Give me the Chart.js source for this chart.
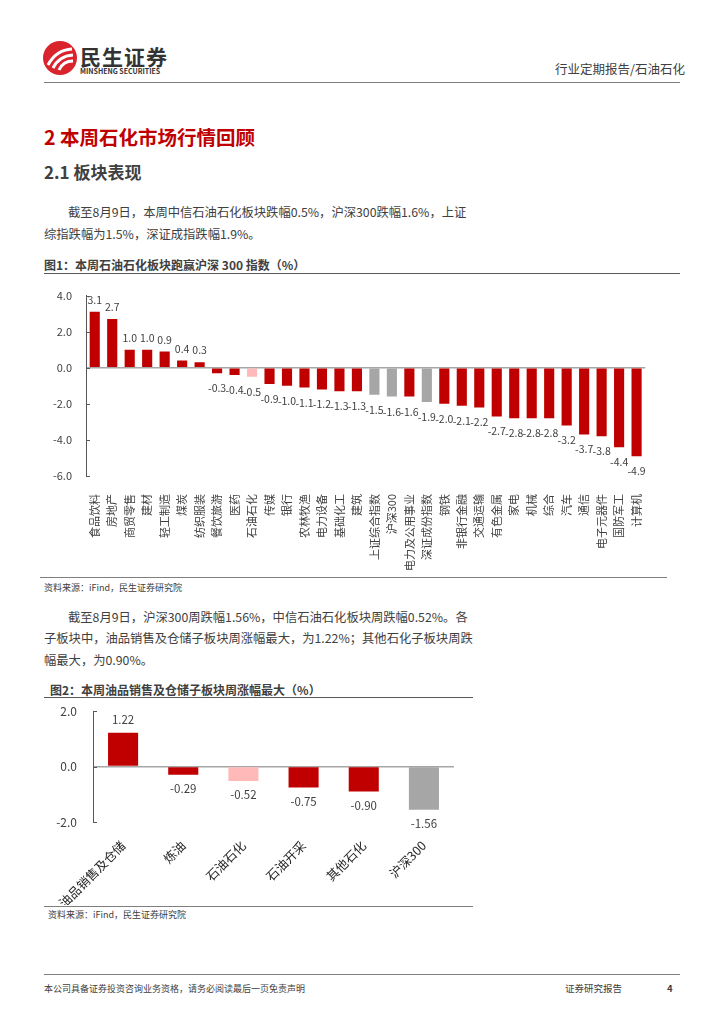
<!DOCTYPE html>
<html>
<head>
<meta charset="utf-8">
<script src="https://cdn.jsdelivr.net/npm/chart.js@4.4.1/dist/chart.umd.min.js"></script>
<style>
  html, body { margin: 0; padding: 0; background: #fff; }
  body { width: 724px; height: 1024px; position: relative; overflow: hidden;
         font-family: "Noto Sans CJK SC", "Noto Sans", sans-serif; color: #262626; }
  .t { position: absolute; white-space: nowrap; line-height: 1; }
  .hr { position: absolute; height: 0; }
  canvas { position: absolute; }
</style>
</head>
<body>

<!-- header -->
<svg style="position:absolute;left:42px;top:40px" width="36" height="36" viewBox="0 0 36 36">
  <circle cx="18" cy="18" r="17" fill="#d9232d"/>
  <path d="M6 25 Q14 10 30 9" stroke="#fff" stroke-width="3" fill="none"/>
  <path d="M11 28 Q17 16 31 15" stroke="#fff" stroke-width="3" fill="none"/>
  <path d="M17 30 Q21 21 31 21" stroke="#fff" stroke-width="3" fill="none"/>
</svg>
<div class="t" style="left:80px;top:46px;font-size:21px;font-weight:bold;color:#333;letter-spacing:1px">民生证券</div>
<div class="t" style="left:80px;top:68px;font-size:7px;font-weight:bold;color:#333">MINSHENG SECURITIES</div>
<div class="t" style="left:555px;top:63px;font-size:12.5px;color:#404040">行业定期报告/石油石化</div>
<div class="hr" style="left:44px;top:82px;width:636px;border-top:1.5px solid #7f7f7f"></div>

<div class="t" style="left:44px;top:127px;font-size:19.5px;font-weight:bold;color:#c00000">2 本周石化市场行情回顾</div>
<div class="t" style="left:44px;top:163px;font-size:17px;font-weight:bold;color:#404040">2.1 板块表现</div>

<div class="t" style="left:68px;top:206px;font-size:12.3px;color:#404040">截至8月9日，本周中信石油石化板块跌幅0.5%，沪深300跌幅1.6%，上证</div>
<div class="t" style="left:44px;top:228px;font-size:12.3px;color:#404040">综指跌幅为1.5%，深证成指跌幅1.9%。</div>

<div class="t" style="left:44px;top:259px;font-size:12px;font-weight:bold;color:#404040">图1：本周石油石化板块跑赢沪深 300 指数（%）</div>
<div class="hr" style="left:44px;top:273px;width:636px;border-top:1.5px solid #595959"></div>

<canvas id="c1" style="left:40px;top:275px;width:620px;height:300px" width="620" height="300"></canvas>

<div class="hr" style="left:40px;top:577px;width:627px;border-top:1px solid #7f7f7f"></div>
<div class="t" style="left:44px;top:583px;font-size:9px;color:#404040">资料来源：iFind，民生证券研究院</div>

<div class="t" style="left:68px;top:611px;font-size:12.3px;color:#404040">截至8月9日，沪深300周跌幅1.56%，中信石油石化板块周跌幅0.52%。各</div>
<div class="t" style="left:44px;top:632px;font-size:12.3px;color:#404040">子板块中，油品销售及仓储子板块周涨幅最大，为1.22%；其他石化子板块周跌</div>
<div class="t" style="left:44px;top:654px;font-size:12.3px;color:#404040">幅最大，为0.90%。</div>

<div class="t" style="left:50px;top:684px;font-size:12px;font-weight:bold;color:#404040">图2：本周油品销售及仓储子板块周涨幅最大（%）</div>
<div class="hr" style="left:44px;top:697px;width:429px;border-top:1.5px solid #595959"></div>

<canvas id="c2" style="left:40px;top:688px;width:430px;height:217px" width="430" height="217"></canvas>

<div class="hr" style="left:44px;top:906px;width:429px;border-top:1px solid #7f7f7f"></div>
<div class="t" style="left:48px;top:910px;font-size:9px;color:#404040">资料来源：iFind，民生证券研究院</div>

<!-- footer -->
<div class="hr" style="left:44px;top:974px;width:636px;border-top:1.5px solid #7f7f7f"></div>
<div class="t" style="left:44px;top:984px;font-size:9px;color:#404040">本公司具备证券投资咨询业务资格，请务必阅读最后一页免责声明</div>
<div class="t" style="left:565px;top:984px;font-size:9.5px;color:#404040">证券研究报告</div>
<div class="t" style="left:667px;top:984px;font-size:9.5px;font-weight:bold;color:#404040">4</div>

<script>
// 图1 data
const sectors = ['食品饮料','房地产','商贸零售','建材','轻工制造','煤炭','纺织服装','餐饮旅游','医药','石油石化',
  '传媒','银行','农林牧渔','电力设备','基础化工','建筑','上证综合指数','沪深300','电力及公用事业','深证成份指数',
  '钢铁','非银行金融','交通运输','有色金属','家电','机械','综合','汽车','通信','电子元器件','国防军工','计算机'];
const sectorChange = [3.1,2.7,1.0,1.0,0.9,0.4,0.3,-0.3,-0.4,-0.5,
  -0.9,-1.0,-1.1,-1.2,-1.3,-1.3,-1.5,-1.6,-1.6,-1.9,
  -2.0,-2.1,-2.2,-2.7,-2.8,-2.8,-2.8,-3.2,-3.7,-3.8,-4.4,-4.9];
const yTicks1 = [-6, -4, -2, 0, 2, 4];

// 图2 data
const subSectors = ['油品销售及仓储','炼油','石油石化','石油开采','其他石化','沪深300'];
const subChange = [1.22,-0.29,-0.52,-0.75,-0.90,-1.56];
const yTicks2 = [-2, 0, 2];

const indexNames = ['上证综合指数','沪深300','深证成份指数'];
const RED = '#c00000', PINK = '#ffb9b9', GRAY = '#a6a6a6';
function colorFor(name, highlight) {
  if (indexNames.includes(name)) return GRAY;
  if (name === highlight) return PINK;
  return RED;
}

const FONT = '"Noto Sans CJK SC", "Noto Sans", sans-serif';

function valueLabels(fontSize, digits, gapUp, gapDown) {
  return {
    id: 'valueLabels',
    afterDatasetsDraw(chart) {
      const ctx = chart.ctx;
      const meta = chart.getDatasetMeta(0);
      const vals = chart.data.datasets[0].data;
      ctx.save();
      ctx.font = fontSize + 'px ' + FONT;
      ctx.fillStyle = '#404040';
      ctx.textAlign = 'center';
      ctx.textBaseline = 'middle';
      meta.data.forEach((bar, i) => {
        const v = vals[i];
        const y = v >= 0 ? bar.y - gapUp : bar.y + gapDown;
        ctx.fillText(v.toFixed(digits), bar.x, y);
      });
      ctx.restore();
    }
  };
}

// small tick marks pointing into the plot
const innerTicks = {
  id: 'innerTicks',
  afterDraw(chart) {
    const s = chart.scales.y;
    const ctx = chart.ctx;
    ctx.save();
    ctx.strokeStyle = '#595959';
    ctx.lineWidth = 1;
    s.ticks.forEach(t => {
      const y = Math.round(s.getPixelForValue(t.value)) + 0.5;
      ctx.beginPath();
      ctx.moveTo(s.right, y);
      ctx.lineTo(s.right + 4, y);
      ctx.stroke();
    });
    ctx.restore();
  }
};

function makeChart(id, labels, values, highlight, opt) {
  return new Chart(document.getElementById(id), {
    type: 'bar',
    data: {
      labels: labels,
      datasets: [{
        data: values,
        backgroundColor: labels.map(n => colorFor(n, highlight)),
        barPercentage: opt.barPct,
        categoryPercentage: 1.0
      }]
    },
    options: {
      responsive: false,
      animation: false,
      layout: { padding: { top: opt.top, right: opt.right } },
      plugins: { legend: { display: false }, tooltip: { enabled: false } },
      scales: {
        x: {
          grid: { display: false },
          border: { display: false },
          ticks: {
            autoSkip: false,
            maxRotation: opt.rot, minRotation: opt.rot,
            padding: opt.xPad,
            color: opt.xColor,
            font: { family: FONT, size: opt.xFont }
          },
          afterFit(s) { s.height = opt.xHeight; }
        },
        y: {
          min: opt.ticks[0], max: opt.ticks[opt.ticks.length - 1],
          afterBuildTicks(s) { s.ticks = opt.ticks.map(v => ({ value: v })); },
          grid: {
            drawTicks: false,
            color: c => (c.tick && c.tick.value === 0) ? '#a6a6a6' : 'rgba(0,0,0,0)',
            lineWidth: 1.5
          },
          border: { display: true, color: '#595959', width: 1 },
          ticks: {
            padding: opt.yPad,
            color: '#404040',
            font: { family: FONT, size: opt.yFont },
            callback: v => Number(v).toFixed(1)
          },
          afterFit(s) { s.width = opt.yWidth; }
        }
      }
    },
    plugins: [valueLabels(opt.lblFont, opt.digits, opt.gapUp, opt.gapDown), innerTicks]
  });
}

makeChart('c1', sectors, sectorChange, '石油石化', {
  barPct: 0.58, top: 0, right: 14, rot: 90, xPad: 10, xColor: '#404040', xFont: 11,
  xHeight: 99, ticks: yTicks1, yPad: 14, yFont: 11, yWidth: 46,
  lblFont: 10.5, digits: 1, gapUp: 12, gapDown: 15
});

makeChart('c2', subSectors, subChange, '石油石化', {
  barPct: 0.5, top: 0, right: 16, rot: 45, xPad: 8, xColor: '#262626', xFont: 12.5,
  xHeight: 83, ticks: yTicks2, yPad: 16, yFont: 12, yWidth: 53,
  lblFont: 11.5, digits: 2, gapUp: 13, gapDown: 14
});
</script>
</body>
</html>
